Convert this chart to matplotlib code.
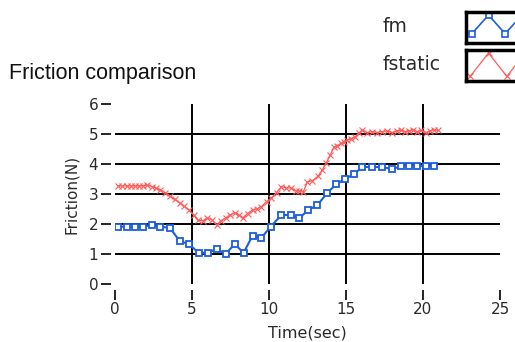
import matplotlib.pyplot as plt

# fm (blue squares)
t_fm = [0.19, 0.78, 1.29, 1.81, 2.39, 2.91, 3.56, 4.21, 4.79, 5.44, 6.02, 6.60,
        7.18, 7.77, 8.35, 8.93, 9.51, 10.10, 10.81, 11.46, 11.97, 12.56, 13.14,
        13.79, 14.37, 14.95, 15.53, 16.05, 16.70, 17.35, 17.99, 18.58, 19.09,
        19.61, 20.19, 20.71]
fm = [1.91, 1.91, 1.91, 1.91, 1.97, 1.91, 1.87, 1.43, 1.33, 1.04, 1.04, 1.17,
      1.00, 1.33, 1.04, 1.61, 1.54, 1.91, 2.30, 2.30, 2.20, 2.47, 2.63, 3.04,
      3.33, 3.50, 3.67, 3.90, 3.90, 3.90, 3.83, 3.93, 3.93, 3.93, 3.93, 3.93]

# fstatic (red crosses)
t_fs = [0.19, 0.45, 0.78, 1.04, 1.29, 1.55, 1.81, 2.07, 2.40, 2.65, 2.91, 3.24,
        3.56, 3.88, 4.21, 4.47, 4.79, 5.11, 5.37, 5.70, 5.96, 6.28, 6.60, 6.86,
        7.18, 7.44, 7.77, 8.03, 8.28, 8.61, 8.93, 9.19, 9.51, 9.84, 10.16, 10.49,
        10.81, 11.13, 11.46, 11.78, 11.97, 12.23, 12.49, 12.82, 13.20, 13.46,
        13.72, 13.98, 14.24, 14.43, 14.69, 14.89, 15.08, 15.34, 15.60, 15.86,
        16.05, 16.38, 16.70, 17.02, 17.35, 17.67, 17.99, 18.32, 18.58, 18.83,
        19.09, 19.35, 19.61, 19.87, 20.19, 20.45, 20.71, 20.97]
fstatic = [3.27, 3.27, 3.27, 3.27, 3.27, 3.27, 3.28, 3.30, 3.25, 3.20, 3.15, 3.05,
           2.93, 2.82, 2.70, 2.60, 2.47, 2.30, 2.13, 2.10, 2.20, 2.15, 1.97, 2.10,
           2.20, 2.30, 2.37, 2.30, 2.20, 2.35, 2.47, 2.50, 2.58, 2.75, 2.87, 3.05,
           3.25, 3.20, 3.20, 3.10, 3.10, 3.08, 3.40, 3.45, 3.60, 3.80, 4.04, 4.30,
           4.58, 4.60, 4.69, 4.75, 4.80, 4.85, 4.91, 5.05, 5.13, 5.05, 5.08, 5.05,
           5.08, 5.10, 5.05, 5.10, 5.12, 5.08, 5.10, 5.15, 5.08, 5.12, 5.05, 5.10,
           5.15, 5.12]

xticks = [0, 5, 10, 15, 20, 25]
yticks = [0, 1, 2, 3, 4, 5, 6]

blue = '#1d5fd8'
red = '#ff5a5a'
txt = '#2a2a2a'

fig = plt.figure(figsize=(5.15, 3.42), dpi=100)
ax = fig.add_axes([115 / 515, 58 / 342, 385 / 515, 180 / 342])

# inner grid lines only
for v in yticks[1:-1]:
    ax.axhline(v, color='black', lw=1.4, zorder=1)
for v in xticks[1:-1]:
    ax.axvline(v, color='black', lw=1.4, zorder=1)

ax.plot(t_fs, fstatic, color=red, lw=0.9, marker='x', ms=5, mew=0.8, zorder=3)
ax.plot(t_fm, fm, color=blue, lw=1.5, marker='s', ms=5, mfc='white',
        mec=blue, mew=1.3, zorder=4)

ax.set_xlim(0, 25)
ax.set_ylim(0, 6)
ax.set_xticks(xticks)
ax.set_yticks(yticks)
for s in ax.spines.values():
    s.set_visible(False)
ax.spines['left'].set_position(('outward', 3))
ax.spines['bottom'].set_position(('outward', 4))
ax.tick_params(axis='both', colors='black', labelcolor=txt, labelsize=11,
               length=7, width=1.2, pad=2)
ax.set_xlabel('Time(sec)', fontsize=11.5, color=txt, labelpad=6)
ax.set_ylabel('Friction(N)', fontsize=11, color=txt, labelpad=7)

fig.text(9 / 515, 1 - 73 / 342, 'Friction comparison', fontsize=15.5,
         family='Liberation Sans', va='center', ha='left', color='#111111')

# legend
fig.text(383 / 515, 1 - 26 / 342, 'fm', fontsize=13.5, color=txt, va='center')
fig.text(383 / 515, 1 - 64 / 342, 'fstatic', fontsize=13.5, color=txt, va='center')

for top, col, mk in [(12, blue, 's'), (50, red, 'x')]:
    la = fig.add_axes([466 / 515, 1 - (top + 31) / 342, 60 / 515, 31 / 342])
    if mk == 's':
        la.plot([0.35, 1.35, 2.35, 3.35], [0.3, 0.9, 0.3, 0.9], color=col, lw=1.2,
                marker='s', ms=4, mfc='white', mec=col, mew=1.2)
    else:
        la.plot([0.25, 1.35, 2.45, 3.55], [0.15, 0.9, 0.15, 0.9], color=col, lw=0.9,
                marker='x', ms=5, mew=0.8)
    la.set_xlim(0, 3.6)
    la.set_ylim(0, 1)
    la.set_xticks([])
    la.set_yticks([])
    for s in la.spines.values():
        s.set_linewidth(2.5)
        s.set_color('black')

fig.savefig('out.png', dpi=100)
